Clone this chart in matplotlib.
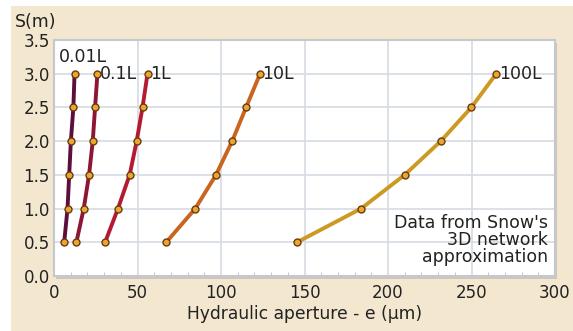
import matplotlib.pyplot as plt
from matplotlib.patches import Rectangle
from matplotlib.ticker import MultipleLocator

# depth S (m) and hydraulic aperture (um) for each scale
depth = [0.5, 1.0, 1.5, 2.0, 2.5, 3.0]
ap_001L = [6.1, 8.1, 9.1, 10.1, 11.6, 12.3]
ap_01L = [13.4, 17.8, 21.0, 23.2, 24.6, 26.0]
ap_1L = [30.6, 38.3, 45.3, 49.5, 53.0, 56.0]
ap_10L = [67.2, 84.6, 97.0, 106.7, 115.0, 123.4]
ap_100L = [145.5, 183.9, 210.0, 231.6, 249.9, 264.8]

labels = ["0.01L", "0.1L", "1L", "10L", "100L"]
colors = ["#5c0f3c", "#8e1635", "#b51a33", "#c9651f", "#cc9a22"]

fig = plt.figure(figsize=(5.73, 3.31), dpi=100)
fig.patch.set_facecolor("white")
fig.patches.append(Rectangle((11 / 573, 0), 1, 1 - 6 / 331, transform=fig.transFigure,
                             facecolor="#f3e7d0", edgecolor="none", zorder=-10))

left, bottom, width, height = 54 / 573, 1 - 276 / 331, 501 / 573, 236 / 331
# soft drop shadow behind the plot panel
fig.patches.append(Rectangle((left + 0.004, bottom - 0.008), width, height,
                             transform=fig.transFigure, facecolor="#cfc7bb",
                             edgecolor="none", zorder=-5))
ax = fig.add_axes([left, bottom, width, height])
ax.set_facecolor("white")

series = [ap_001L, ap_01L, ap_1L, ap_10L, ap_100L]
for xs, c in zip(series, colors):
    ax.plot(xs, depth, color=c, lw=2.8, solid_capstyle="round", zorder=3)
    ax.plot(xs, depth, "o", ms=5, mfc="#e9a72e", mec="#6b3a10", mew=1.0, zorder=4)

# curve names next to the top point
ax.text(2.7, 3.12, labels[0], fontsize=12.5, ha="left", va="bottom", color="#222")
for xs, lab in zip(series[1:], labels[1:]):
    ax.text(xs[-1] + 1.5, 3.0, lab, fontsize=12.5, ha="left", va="center", color="#222")

ax.text(296, 0.92, "Data from Snow's\n3D network\napproximation", fontsize=12.5,
        ha="right", va="top", color="#222", linespacing=0.92)

ax.set_xlim(0, 300)
ax.set_ylim(0, 3.5)
ax.xaxis.set_major_locator(MultipleLocator(50))
ax.xaxis.set_minor_locator(MultipleLocator(10))
ax.yaxis.set_major_locator(MultipleLocator(0.5))
ax.yaxis.set_major_formatter(plt.FormatStrFormatter("%.1f"))
ax.grid(True, which="major", color="#d6dbe4", lw=1.2)
ax.set_axisbelow(True)
ax.tick_params(which="major", length=0, labelsize=12, colors="#222", pad=3)
ax.tick_params(axis="x", which="major", pad=6)
ax.tick_params(axis="x", which="minor", direction="in", length=3, color="#b8bcc6")
for s in ax.spines.values():
    s.set_color("#c4c8d0")
    s.set_linewidth(1.5)

ax.set_xlabel("Hydraulic aperture - e (\u03bcm)", fontsize=12.3, color="#222", labelpad=2)
fig.text(15 / 573, 1 - 22 / 331, "S(m)", fontsize=12.5, va="center", ha="left", color="#222")

fig.savefig("out.png", dpi=100, facecolor=fig.get_facecolor())
